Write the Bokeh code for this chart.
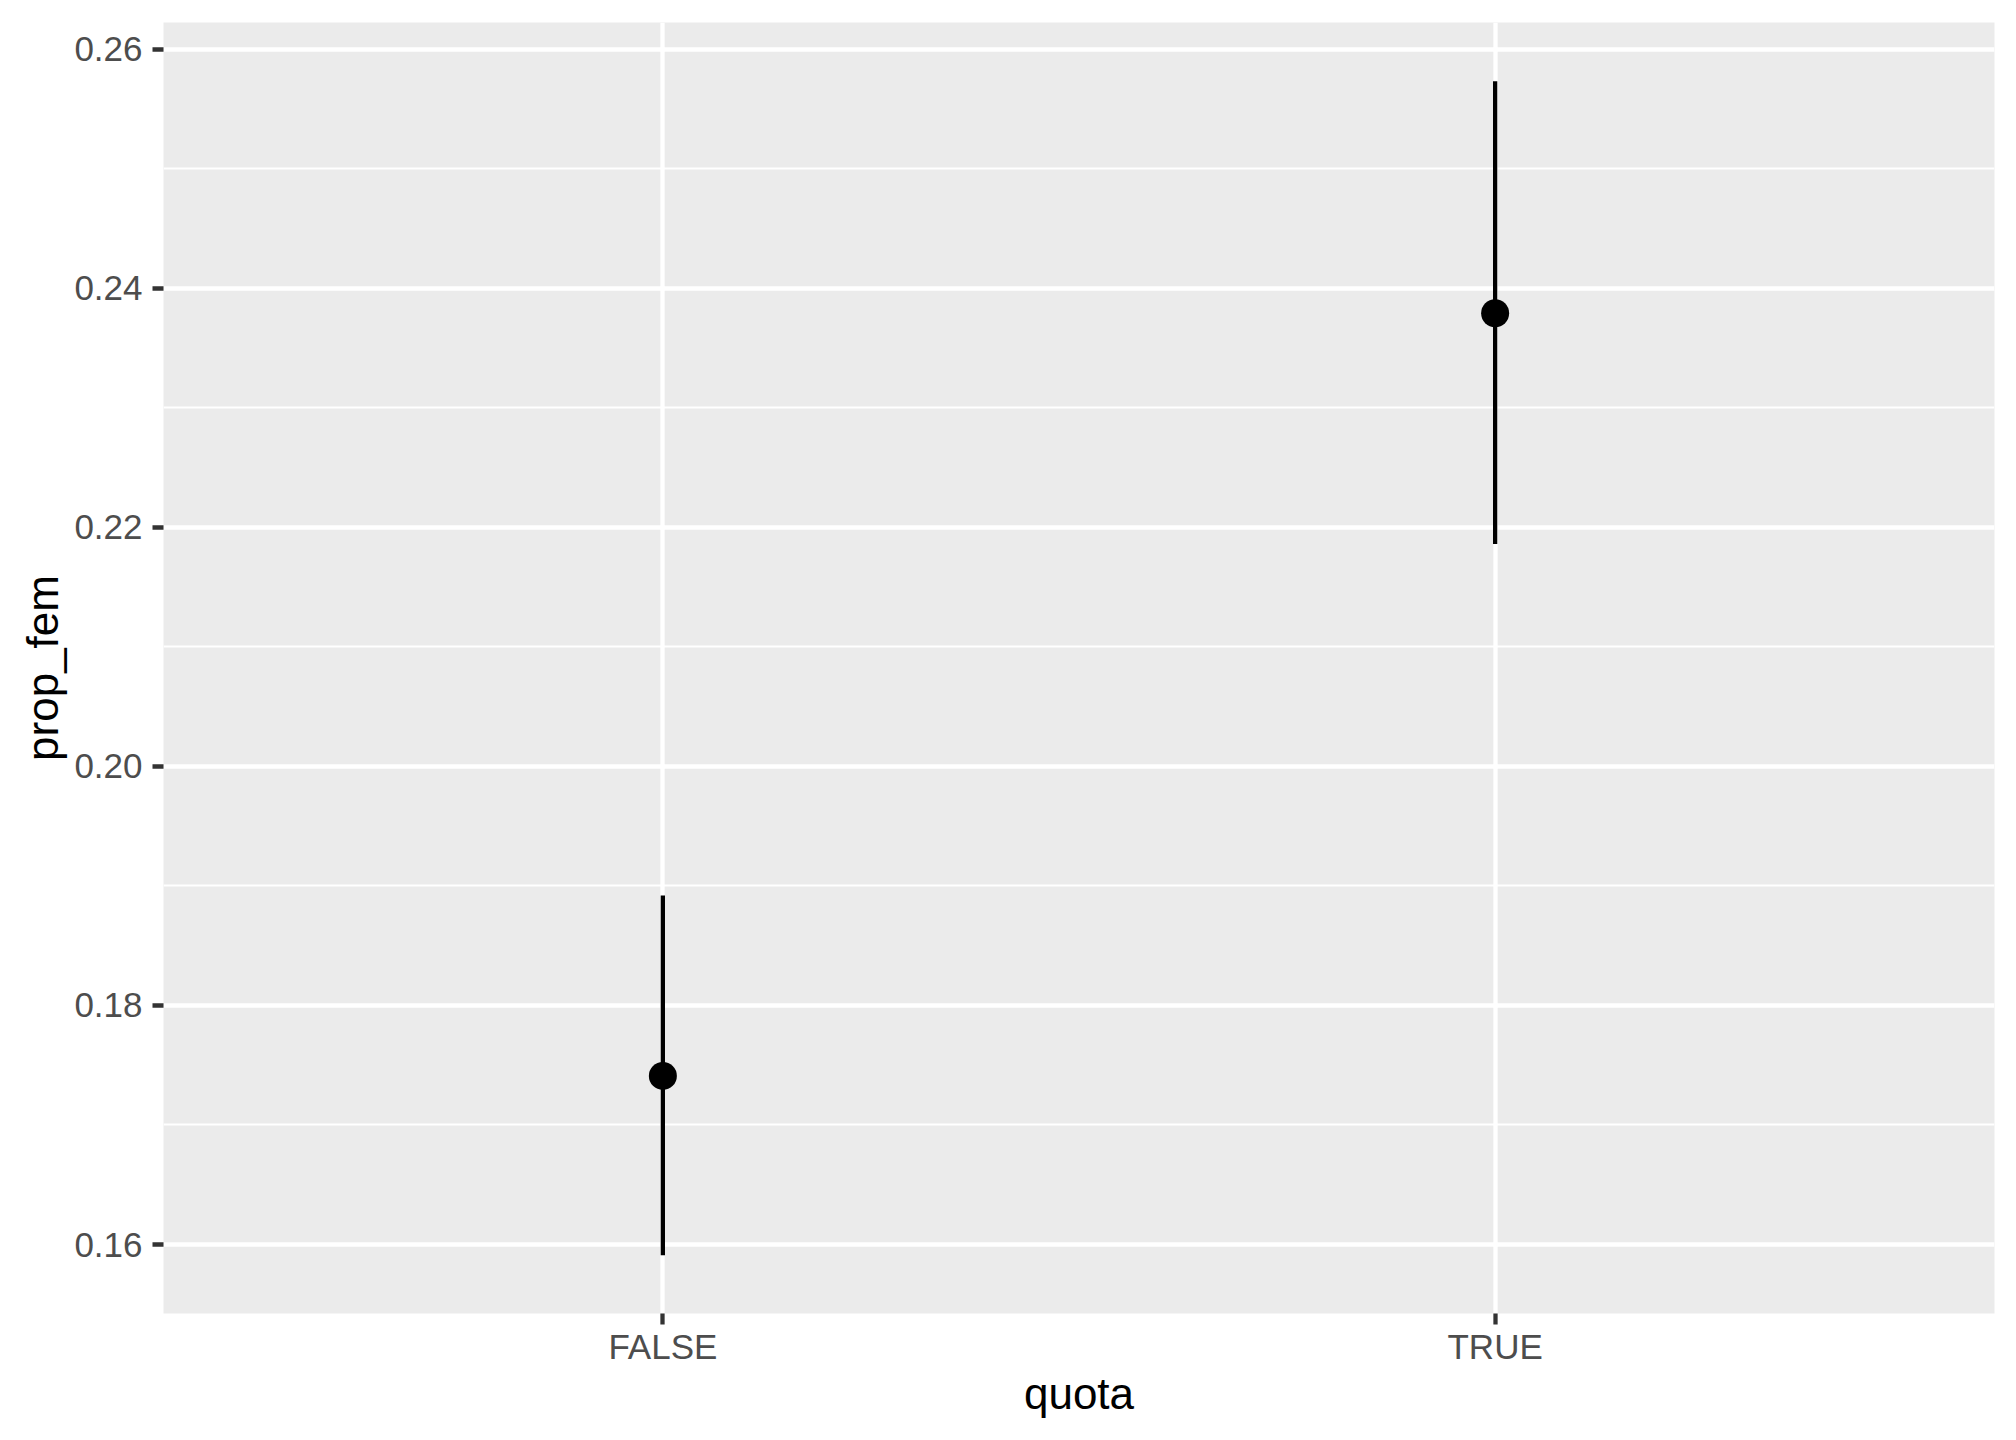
from bokeh.plotting import figure
from bokeh.models import FactorRange, Range1d, FixedTicker
from bokeh.embed import file_html
from bokeh.resources import INLINE

# Data
quota = ["FALSE", "TRUE"]
prop_fem = [0.1741, 0.2379]
lower = [0.1591, 0.2186]
upper = [0.1892, 0.2573]

y_ticks = [0.16, 0.18, 0.20, 0.22, 0.24, 0.26]
y_minor = [0.15, 0.17, 0.19, 0.21, 0.23, 0.25, 0.27]

FONT = "Liberation Sans"
MAJOR_W = 4.27
MINOR_W = 2.13

x_range = FactorRange(factors=quota, range_padding=0.1, range_padding_units="absolute")
y_range = Range1d(0.15423, 0.26222)

p = figure(
    x_range=x_range, y_range=y_range,
    frame_width=1831, frame_height=1291,
    min_border_left=163, min_border_right=22, min_border_top=22, min_border_bottom=127,
    output_backend="svg", toolbar_location=None,
    background_fill_color="#EBEBEB", border_fill_color="white",
)
p.outline_line_color = None

# grids
p.xgrid.grid_line_color = "white"
p.xgrid.grid_line_width = MAJOR_W
p.ygrid.grid_line_color = "white"
p.ygrid.grid_line_width = MAJOR_W
p.ygrid.minor_grid_line_color = "white"
p.ygrid.minor_grid_line_width = MINOR_W
p.yaxis.ticker = FixedTicker(ticks=y_ticks, minor_ticks=y_minor)

for ax in (p.xaxis[0], p.yaxis[0]):
    ax.axis_line_color = None
    ax.major_tick_line_color = "#333333"
    ax.major_tick_line_width = MAJOR_W
    ax.major_tick_out = 11
    ax.major_tick_in = 0
    ax.minor_tick_line_color = None
    ax.major_label_text_font = FONT
    ax.major_label_text_font_size = "35px"
    ax.major_label_text_color = "#4D4D4D"
    ax.axis_label_text_font = FONT
    ax.axis_label_text_font_size = "44px"
    ax.axis_label_text_color = "black"
    ax.axis_label_text_font_style = "normal"

p.xaxis.axis_label = "quota"
p.yaxis.axis_label = "prop_fem"
p.xaxis.major_label_standoff = 2
p.yaxis.major_label_standoff = 10
p.xaxis.axis_label_standoff = 0
p.yaxis.axis_label_standoff = 4
p.yaxis.major_label_overrides = {t: f"{t:.2f}" for t in y_ticks}

# pointrange
p.segment(x0=quota, y0=lower, x1=quota, y1=upper, line_color="black", line_width=MAJOR_W)
p.scatter(x=quota, y=prop_fem, size=28, fill_color="black", line_color=None)

open("out.html", "w").write(file_html(p, INLINE))
